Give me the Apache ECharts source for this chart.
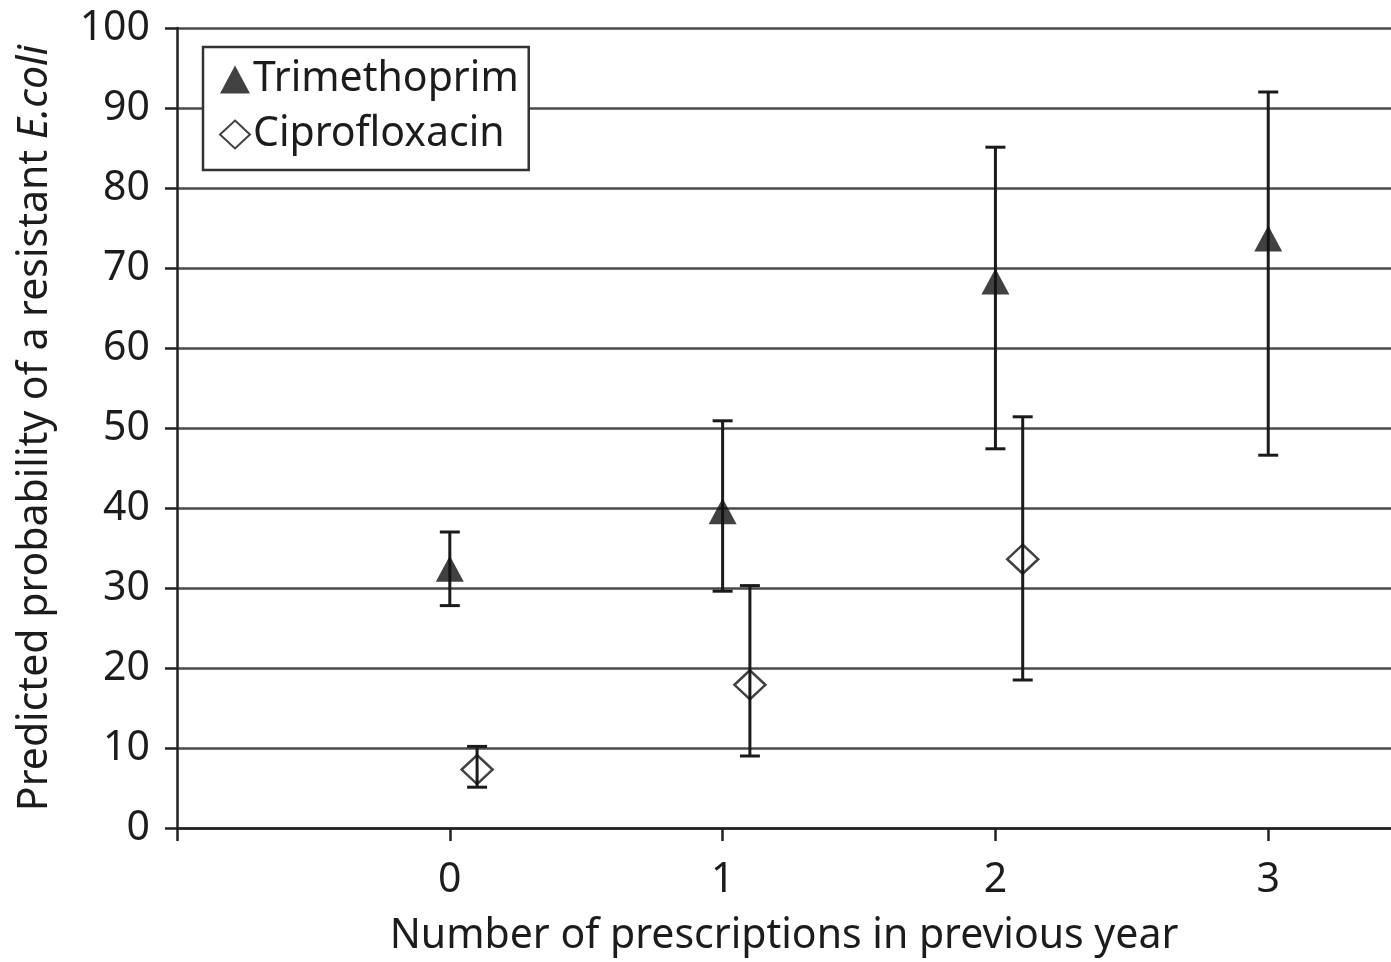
<!DOCTYPE html>
<html>
<head>
<meta charset="utf-8">
<script src="https://cdn.jsdelivr.net/npm/echarts@6/dist/echarts.min.js"></script>
<style>html,body{margin:0;padding:0;background:#fff}#c{width:1391px;height:962px}</style>
</head>
<body>
<div id="c"></div>
<script>
// Data
var trimX = [0, 1, 2, 3];
var trimMean = [32.4, 39.6, 68.3, 73.7];
var trimLow = [27.8, 29.6, 47.4, 46.6];
var trimHigh = [37.0, 50.9, 85.1, 92.0];

var ciproX = [0.1, 1.1, 2.1];
var ciproMean = [7.3, 17.9, 33.6];
var ciproLow = [5.1, 9.0, 18.5];
var ciproHigh = [10.2, 30.3, 51.4];

var xTickLabels = [0, 1, 2, 3];
var xTickMarks = [-1, 0, 1, 2, 3];

var FONT = 'Noto Sans';
var TXT = '#1c1c1c';
var FS = 41;

function pts(xs, ys) { return xs.map(function (x, i) { return [x, ys[i]]; }); }
function bars(xs, lo, hi) { return xs.map(function (x, i) { return [x, lo[i], hi[i]]; }); }

function errRender(params, api) {
  var x = api.value(0), lo = api.value(1), hi = api.value(2);
  var pHi = api.coord([x, hi]);
  var pLo = api.coord([x, lo]);
  var cap = 10;
  var st = { stroke: '#1a1a1a', lineWidth: 3 };
  return {
    type: 'group',
    children: [
      { type: 'line', shape: { x1: pHi[0], y1: pHi[1], x2: pLo[0], y2: pLo[1] }, style: st },
      { type: 'line', shape: { x1: pHi[0] - cap, y1: pHi[1], x2: pHi[0] + cap, y2: pHi[1] }, style: st },
      { type: 'line', shape: { x1: pLo[0] - cap, y1: pLo[1], x2: pLo[0] + cap, y2: pLo[1] }, style: st }
    ]
  };
}

var chart = echarts.init(document.getElementById('c'), null, { renderer: 'canvas' });
chart.setOption({
  animation: false,
  backgroundColor: '#fff',
  textStyle: { fontFamily: FONT, color: TXT },
  grid: { left: 177, right: 0, top: 28, bottom: 134, containLabel: false, outerBoundsMode: 'none' },
  legend: {
    left: 203, top: 47, orient: 'vertical',
    backgroundColor: '#fff', borderColor: '#333', borderWidth: 2.5,
    padding: [12, 10, 15, 16], itemGap: 14, itemWidth: 30, itemHeight: 28,
    textStyle: { fontFamily: FONT, fontSize: FS, color: TXT, padding: [0, 0, 0, -2] },
    data: ['Trimethoprim', 'Ciprofloxacin']
  },
  xAxis: {
    type: 'value', min: -1, max: 3.45, interval: 1,
    name: 'Number of prescriptions in previous year',
    nameLocation: 'middle', nameGap: 88,
    nameTextStyle: { fontFamily: FONT, fontSize: FS, color: TXT },
    splitLine: { show: false },
    axisLine: { show: true, onZero: false, lineStyle: { color: '#222', width: 2.5 } },
    axisTick: { show: true, length: 13, lineStyle: { color: '#222', width: 2.5 }, customValues: xTickMarks },
    axisLabel: { fontFamily: FONT, fontSize: FS, color: TXT, margin: 32, customValues: xTickLabels }
  },
  yAxis: {
    type: 'value', min: 0, max: 100, interval: 10,
    name: 'Predicted probability of a resistant {i|E.coli}',
    nameLocation: 'middle', nameGap: 121,
    nameTextStyle: { fontFamily: FONT, fontSize: FS, color: TXT, rich: { i: { fontFamily: FONT, fontSize: FS, color: TXT, fontStyle: 'italic' } } },
    axisLine: { show: true, onZero: false, lineStyle: { color: '#222', width: 2.5 } },
    axisTick: { show: true, length: 12, lineStyle: { color: '#222', width: 2.5 } },
    axisLabel: { fontFamily: FONT, fontSize: FS, color: TXT, margin: 27 },
    splitLine: { show: true, lineStyle: { color: '#4a4a4a', width: 2.5 } }
  },
  series: [
    {
      name: 'Trimethoprim', type: 'scatter', symbol: 'triangle', symbolSize: [28, 26],
      itemStyle: { color: '#111' }, z: 3,
      data: pts(trimX, trimMean)
    },
    {
      name: 'Ciprofloxacin', type: 'scatter', symbol: 'diamond', symbolSize: [31, 29],
      itemStyle: { color: 'rgba(255,255,255,0)', borderColor: '#111', borderWidth: 2.5 }, z: 3,
      data: pts(ciproX, ciproMean)
    },
    {
      name: 'trimErr', type: 'custom', renderItem: errRender, z: 2,
      encode: { x: 0, y: [1, 2] },
      data: bars(trimX, trimLow, trimHigh)
    },
    {
      name: 'ciproErr', type: 'custom', renderItem: errRender, z: 2,
      encode: { x: 0, y: [1, 2] },
      data: bars(ciproX, ciproLow, ciproHigh)
    }
  ]
});
</script>
</body>
</html>
